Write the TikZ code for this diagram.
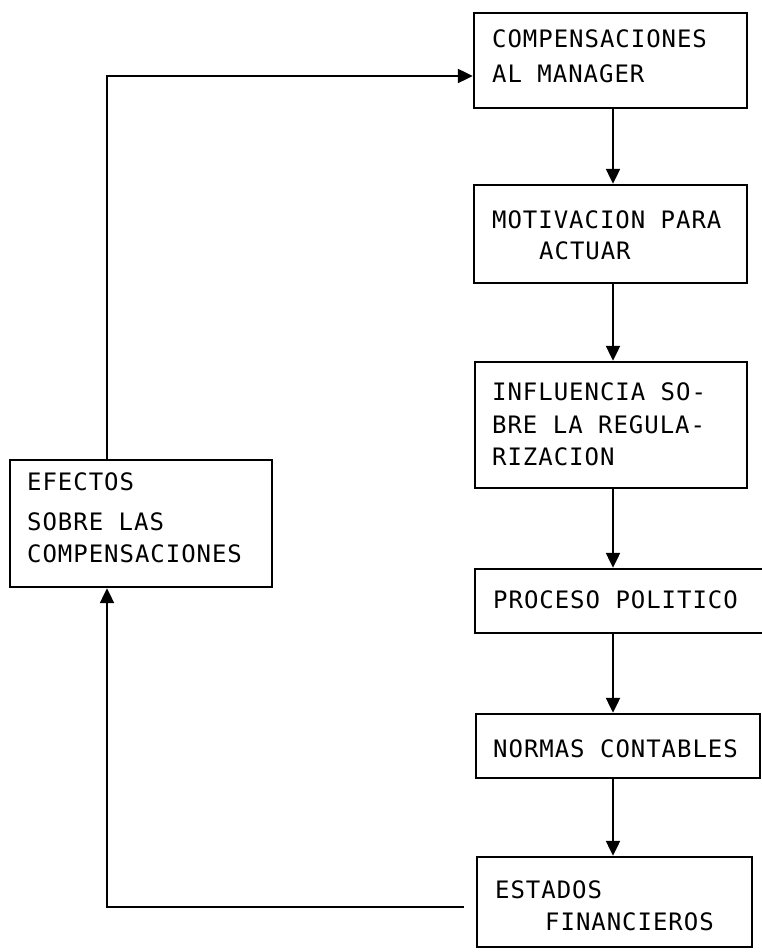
\documentclass[tikz,border=0pt]{standalone}
\usepackage{fontspec}
\newfontfamily\boxfont[LetterSpace=4]{DejaVu Sans Mono}
\usetikzlibrary{arrows.meta}
\begin{document}
\begin{tikzpicture}[x=1pt,y=-1pt,
  box/.style={draw, line width=2.4pt, inner sep=0pt},
  lbl/.style={anchor=base west, inner sep=0pt, font=\boxfont\fontsize{24}{28}\selectfont},
  link/.style={line width=2.2pt, -{Triangle[length=15pt,width=14pt]}},
  plain/.style={line width=2.2pt}]
\useasboundingbox (0,0) rectangle (762,952);

% boxes of the main chain
\node[box, minimum width=273pt, minimum height=95pt]  (b1) at (610.5,60.5) {};
\node[box, minimum width=273pt, minimum height=98pt]  (b2) at (610.5,234) {};
\node[box, minimum width=272pt, minimum height=126pt] (b3) at (611,425) {};
\node[box, minimum width=290pt, minimum height=64pt]  (b4) at (620,601) {};
\node[box, minimum width=284pt, minimum height=64pt]  (b5) at (618,746) {};
\node[box, minimum width=275pt, minimum height=90pt]  (b6) at (614.5,902) {};
% feedback box
\node[box, minimum width=262pt, minimum height=127pt] (L) at (141,523.5) {};

% labels
\node[lbl] (t1a) at (492,48)  {COMPENSACIONES};
\node[lbl] (t1b) at (492,83)  {AL MANAGER};
\node[lbl] (t2a) at (492,228) {MOTIVACION PARA};
\node[lbl] (t2b) at (539,259) {ACTUAR};
\node[lbl] (t3a) at (492,400) {INFLUENCIA SO-};
\node[lbl] (t3b) at (492,433) {BRE LA REGULA-};
\node[lbl] (t3c) at (492,465) {RIZACION};
\node[lbl] (t4)  at (493,608) {PROCESO POLITICO};
\node[lbl] (t5)  at (493,757) {NORMAS CONTABLES};
\node[lbl] (t6a) at (495,898) {ESTADOS};
\node[lbl] (t6b) at (545,930) {FINANCIEROS};
\node[lbl] (tLa) at (27,490)  {EFECTOS};
\node[lbl] (tLb) at (27,530)  {SOBRE LAS};
\node[lbl] (tLc) at (27,562)  {COMPENSACIONES};

% vertical axes of the connectors
\coordinate (ax) at (613,0);
\coordinate (lx) at (107,0);
\coordinate (fb) at (464,907);
\coordinate (top) at (107,76);

% main chain
\draw[link] (b1.south -| ax) -- (b2.north -| ax);
\draw[link] (b2.south -| ax) -- (b3.north -| ax);
\draw[link] (b3.south -| ax) -- (b4.north -| ax);
\draw[link] (b4.south -| ax) -- (b5.north -| ax);
\draw[link] (b5.south -| ax) -- (b6.north -| ax);

% feedback loop
\draw[link] (fb) -- (fb -| lx) -- (L.south -| lx);
\draw[link] (L.north -| lx) -- (top) -- (b1.west |- top);
\end{tikzpicture}
\end{document}
